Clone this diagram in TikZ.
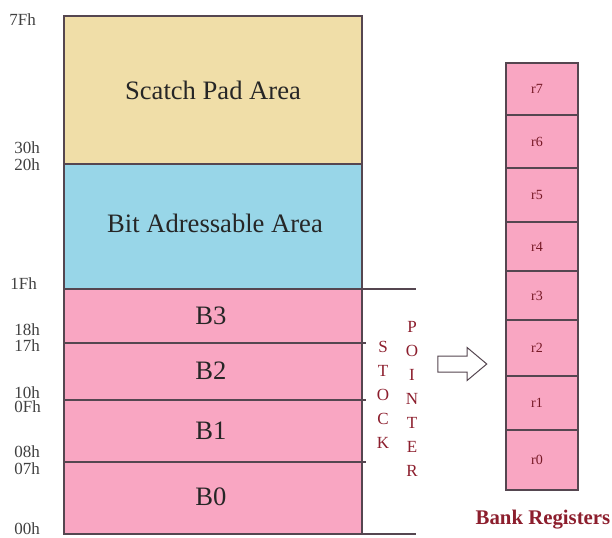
\documentclass[tikz,border=0pt]{standalone}
\usepackage{fontspec}
\setmainfont{Liberation Serif}
\usetikzlibrary{shapes.arrows}

\definecolor{padtan}{RGB}{240,222,168}
\definecolor{bitblue}{RGB}{152,214,232}
\definecolor{bankpink}{RGB}{249,166,194}
\definecolor{edgegray}{RGB}{85,70,80}
\definecolor{spred}{RGB}{140,30,45}

\begin{document}
\begin{tikzpicture}[x=0.5pt, y=-0.5pt,
    area/.style={draw=edgegray, line width=0.7pt},
    arealbl/.style={font=\fontsize{13.3}{15}\selectfont, text=black!85},
    addr/.style={anchor=west, inner sep=0pt, font=\fontsize{8.5}{10}\selectfont, text=black!75},
    splbl/.style={inner sep=0pt, font=\fontsize{8.5}{10}\selectfont, text=spred},
    reglbl/.style={font=\fontsize{7}{8}\selectfont, text=spred!85!black},
  ]
  \useasboundingbox (0,0) rectangle (612,537);

  % Internal RAM map
  \draw[area, fill=padtan] (64,16) rectangle (362,164);
  \draw[area, fill=bitblue] (64,164) rectangle (362,289);
  \draw[area, fill=bankpink] (64,289) rectangle (362,534);
  \foreach \y in {343,400,462}
    \draw[area] (64,\y) -- (366,\y);
  \draw[area] (362,289) -- (416,289);
  \draw[area] (362,534) -- (416,534);

  \node[arealbl] (pad) at (213,90) {Scatch Pad Area};
  \node[arealbl] (bit) at (215,223) {Bit Adressable Area};
  \foreach \name/\y in {B3/316,B2/371,B1/431,B0/497}
    \node[arealbl] (\name) at (211,\y) {\name};

  % Addresses
  \node[addr] (a7F) at (9,20) {7Fh};
  \node[addr] (a1F) at (10,284) {1Fh};
  \foreach \txt/\y in {30h/148,20h/165,18h/330,17h/346,10h/393,0Fh/407,08h/452,07h/469,00h/529}
    \node[addr] (a\txt) at (14,\y) {\txt};

  % Stack pointer
  \foreach \c [count=\i] in {S,T,O,C,K}
    \node[splbl] (st\i) at (383,{323+24*\i}) {\c};
  \foreach \c [count=\i] in {P,O,I,N,T,E,R}
    \node[splbl] (pt\i) at (412,{303+24*\i}) {\c};

  \node[single arrow, draw=edgegray, line width=0.5pt, fill=white,
        inner xsep=0pt, inner ysep=3.75pt,
        minimum height=24.5pt, single arrow head extend=4.25pt,
        single arrow tip angle=80] (ptr) at (457.5,364) {};

  % Bank registers r0..r7
  \foreach \name/\top/\bot in {r7/63/115,r6/115/168,r5/168/222,r4/222/271,
                                r3/271/320,r2/320/376,r1/376/430,r0/430/490} {
    \draw[area, fill=bankpink] (506,\top) rectangle (578,\bot);
    \node[reglbl] (\name) at (537,{(\top+\bot)/2}) {\name};
  }
  \node[font=\fontsize{10.4}{12}\selectfont\bfseries, text=spred] (bank) at (543,520) {Bank Registers};

\end{tikzpicture}
\end{document}
